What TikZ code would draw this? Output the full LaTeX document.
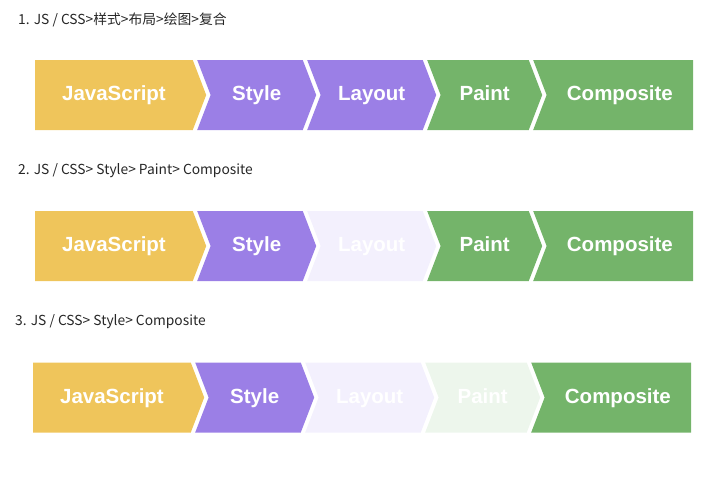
\documentclass[tikz,border=0pt]{standalone}
\usepackage{fontspec}
\setmainfont{Liberation Sans}
\newfontfamily\cjkfont{Noto Sans CJK SC}
\usepackage{tikz}
\usetikzlibrary{positioning,shapes.symbols}
\definecolor{ScriptYellow}{RGB}{239,197,91}
\definecolor{StylePurple}{RGB}{155,127,230}
\definecolor{PaintGreen}{RGB}{116,180,106}
\definecolor{LayoutFaded}{RGB}{243,240,253}
\definecolor{PaintFaded}{RGB}{237,246,236}
\tikzset{
  chevbox/.style={signal, signal to=east, signal from=west,
    signal pointer angle=138, minimum height=70pt, inner sep=0pt,
    text height=14.7pt, text depth=3pt,
    font=\bfseries\fontsize{20.5}{22}\selectfont, text=white},
  jsbox/.style={chevbox, signal from=nowhere, fill=ScriptYellow, minimum width=171pt},
  stylebox/.style={chevbox, fill=StylePurple, minimum width=119pt},
  layoutbox/.style={chevbox, fill=StylePurple, minimum width=129pt},
  layoutoff/.style={layoutbox, fill=LayoutFaded},
  paintbox/.style={chevbox, fill=PaintGreen, minimum width=115pt},
  paintoff/.style={paintbox, fill=PaintFaded},
  compbox/.style={chevbox, signal to=nowhere, fill=PaintGreen, minimum width=160pt},
  rowtitle/.style={anchor=west, inner sep=0pt, font=\cjkfont\fontsize{13.8}{15}\selectfont,
    text=black!85}
}

\begin{document}
\begin{tikzpicture}[x=1pt, y=1pt, node distance=4pt]
  \useasboundingbox (0,0) rectangle (727,-495);

  % row 1: every stage runs
  \node[rowtitle] (title1) at (18,-19.5) {1. JS / CSS>样式>布局>绘图>复合};
  \node[jsbox, anchor=west] (js1) at (35,-95) {JavaScript};
  \node[stylebox, right=of js1] (style1) {Style};
  \node[layoutbox, right=of style1] (layout1) {Layout};
  \node[paintbox, right=of layout1] (paint1) {Paint};
  \node[compbox, right=of paint1] (comp1) {Composite};

  % row 2: layout skipped
  \node[rowtitle] (title2) at (18,-170.5) {2. JS / CSS> Style> Paint> Composite};
  \node[jsbox, anchor=west] (js2) at (35,-246) {JavaScript};
  \node[stylebox, right=of js2] (style2) {Style};
  \node[layoutoff, right=of style2] (layout2) {Layout};
  \node[paintbox, right=of layout2] (paint2) {Paint};
  \node[compbox, right=of paint2] (comp2) {Composite};

  % row 3: layout and paint skipped
  \node[rowtitle] (title3) at (15,-321.5) {3. JS / CSS> Style> Composite};
  \node[jsbox, anchor=west] (js3) at (33,-397.5) {JavaScript};
  \node[stylebox, right=of js3] (style3) {Style};
  \node[layoutoff, right=of style3] (layout3) {Layout};
  \node[paintoff, right=of layout3] (paint3) {Paint};
  \node[compbox, right=of paint3] (comp3) {Composite};
\end{tikzpicture}
\end{document}
